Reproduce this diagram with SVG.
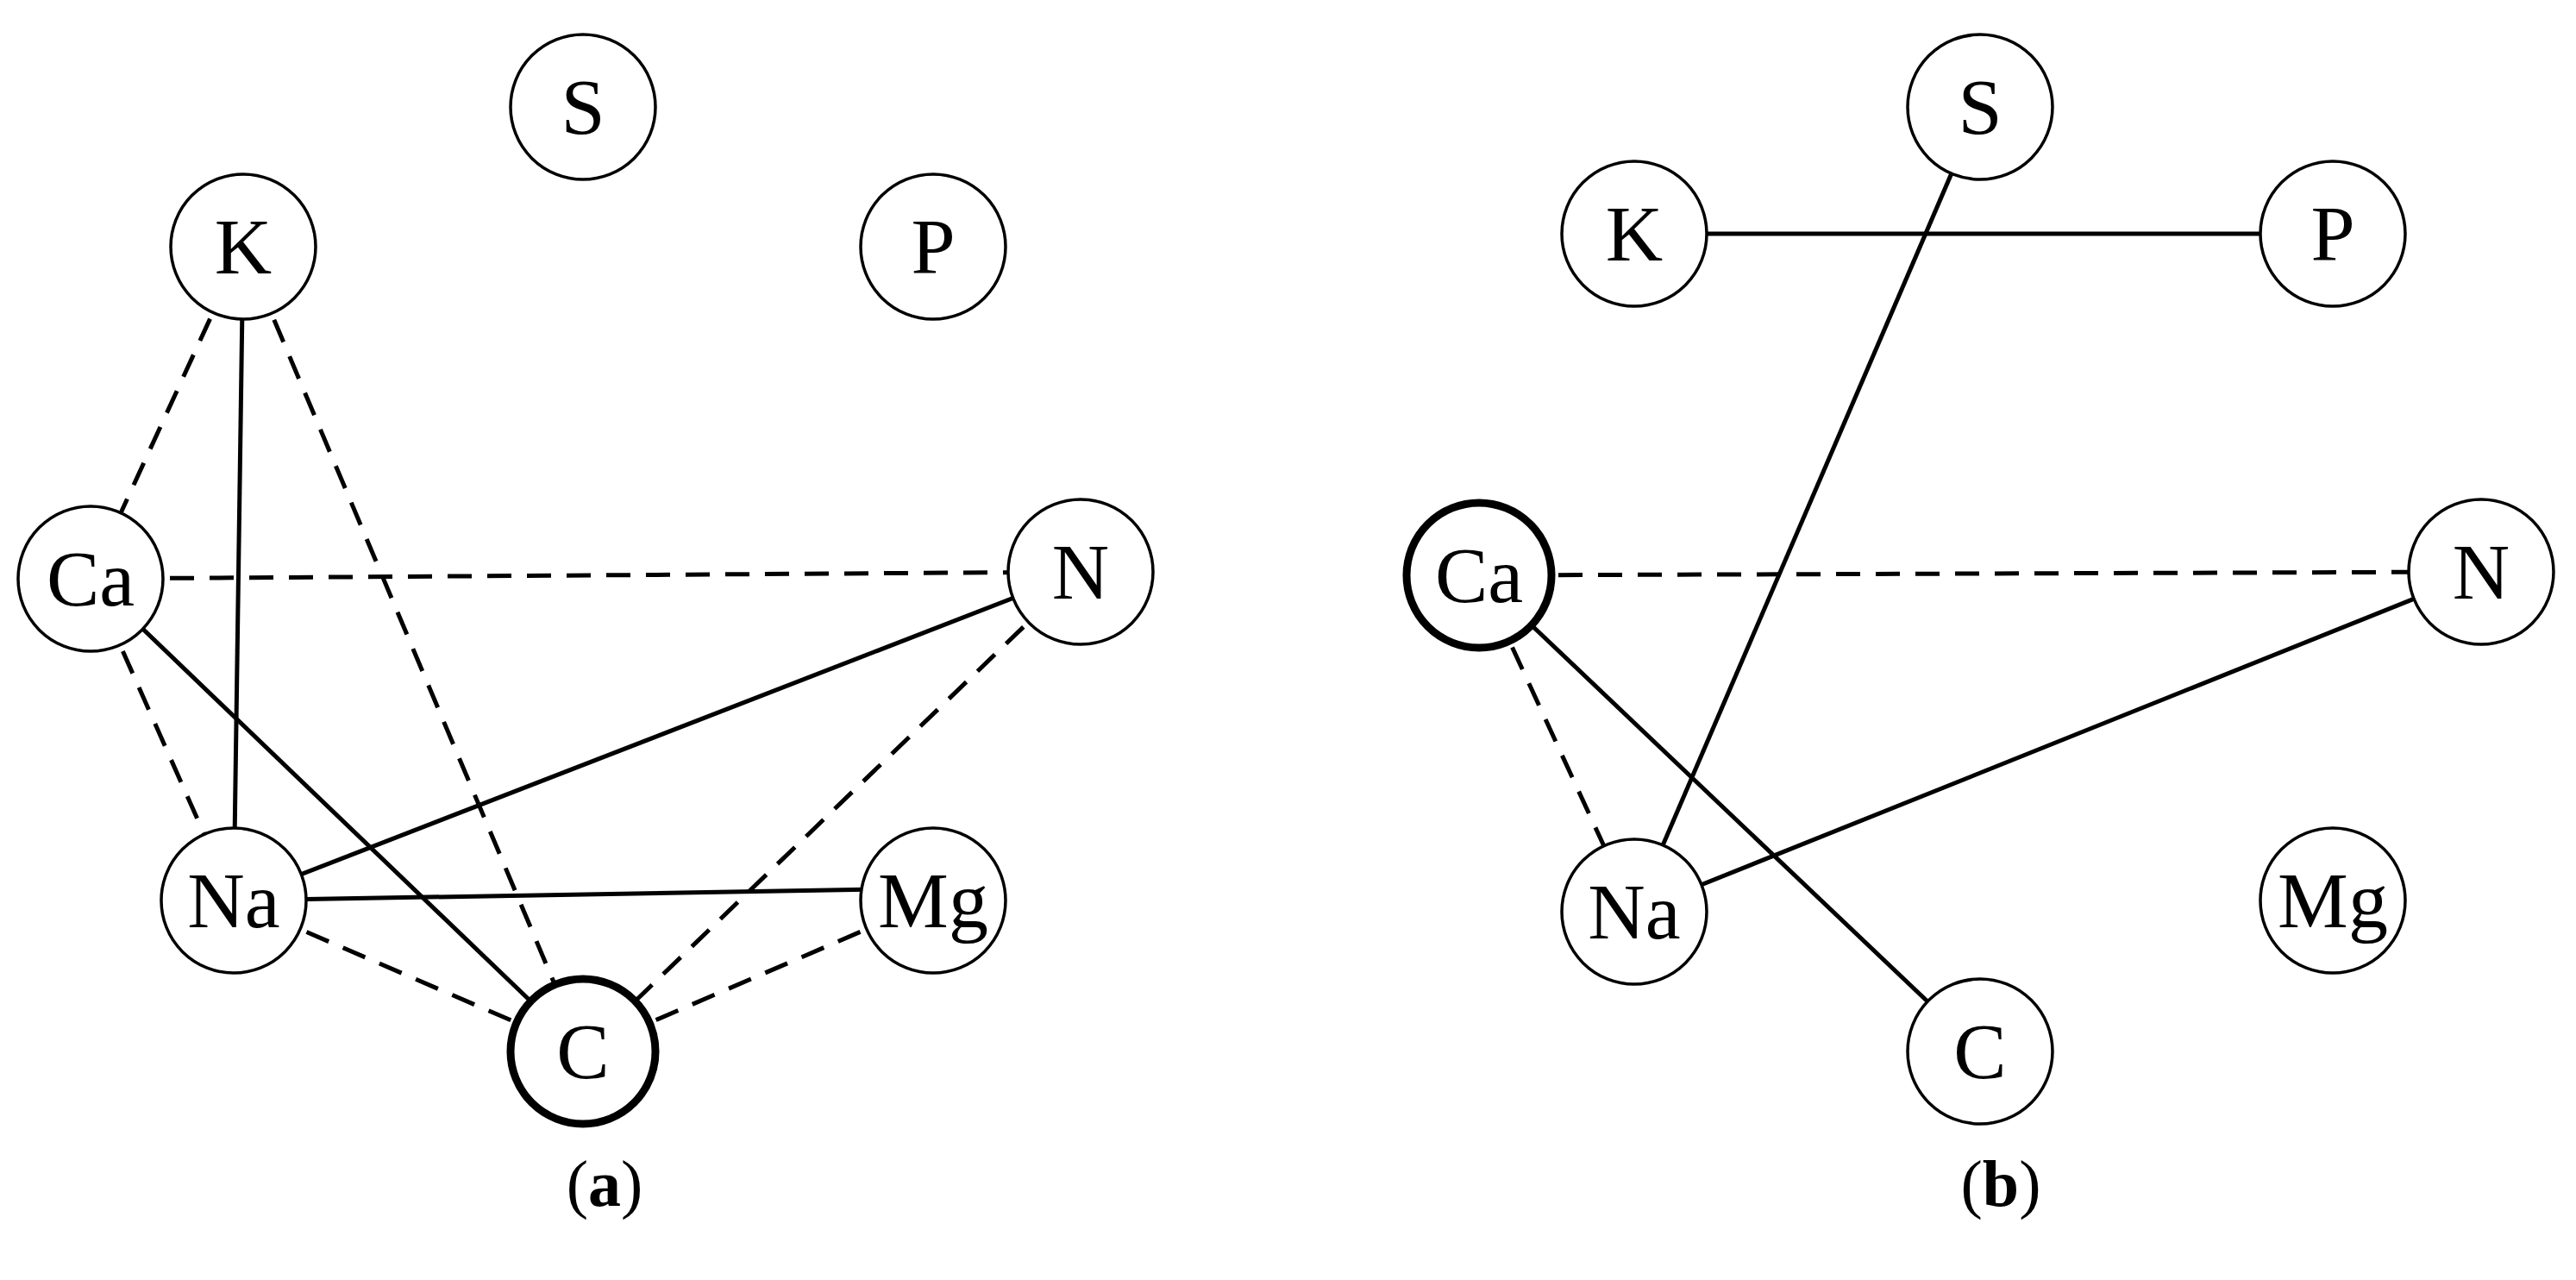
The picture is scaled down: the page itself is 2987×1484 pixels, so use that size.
<svg xmlns="http://www.w3.org/2000/svg" width="2987" height="1484" viewBox="0 0 2987 1484">
<style>
.n{fill:#fff;stroke:#000;stroke-width:3.5}
.b{stroke-width:9}
.t{font-family:"Liberation Serif",serif;font-size:92px;text-anchor:middle;dominant-baseline:central}
.s{stroke:#000;stroke-width:5;fill:none}
.d{stroke:#000;stroke-width:5;fill:none;stroke-dasharray:28 18}
.cap{font-family:"Liberation Serif",serif;font-size:76px;text-anchor:middle}
</style>
<rect width="2987" height="1484" fill="#fff"/>
<g id="connectors">
<line class="s" x1="282" y1="286" x2="271" y2="1044"/>
<line class="d" x1="282" y1="286" x2="105" y2="671"/>
<line class="d" x1="282" y1="286" x2="676" y2="1219"/>
<line class="d" x1="105" y1="671" x2="1253" y2="663"/>
<line class="d" x1="105" y1="671" x2="271" y2="1044"/>
<line class="s" x1="105" y1="671" x2="676" y2="1219"/>
<line class="s" x1="271" y1="1044" x2="1253" y2="663"/>
<line class="s" x1="271" y1="1044" x2="1082" y2="1030"/>
<line class="d" x1="1253" y1="663" x2="676" y2="1219"/>
<line class="d" x1="271" y1="1044" x2="676" y2="1219"/>
<line class="d" x1="1082" y1="1044" x2="676" y2="1219"/>
<line class="s" x1="1895" y1="271" x2="2705" y2="271"/>
<line class="s" x1="2296" y1="124" x2="1895" y2="1057"/>
<line class="d" x1="1715" y1="667" x2="2877" y2="663"/>
<line class="d" x1="1715" y1="667" x2="1895" y2="1057"/>
<line class="s" x1="1715" y1="667" x2="2296" y2="1219"/>
<line class="s" x1="1895" y1="1057" x2="2877" y2="663"/>
</g>
<g id="a-S"><circle class="n" cx="676" cy="124" r="84"/><text class="t" x="676" y="124">S</text></g>
<g id="a-K"><circle class="n" cx="282" cy="286" r="84"/><text class="t" x="282" y="286">K</text></g>
<g id="a-P"><circle class="n" cx="1082" cy="286" r="84"/><text class="t" x="1082" y="286">P</text></g>
<g id="a-Ca"><circle class="n" cx="105" cy="671" r="84"/><text class="t" x="105" y="671">Ca</text></g>
<g id="a-N"><circle class="n" cx="1253" cy="663" r="84"/><text class="t" x="1253" y="663">N</text></g>
<g id="a-Na"><circle class="n" cx="271" cy="1044" r="84"/><text class="t" x="271" y="1044">Na</text></g>
<g id="a-Mg"><circle class="n" cx="1082" cy="1044" r="84"/><text class="t" x="1082" y="1044">Mg</text></g>
<g id="a-C"><circle class="n b" cx="676" cy="1219" r="84"/><text class="t" x="676" y="1219">C</text></g>
<g id="b-S"><circle class="n" cx="2296" cy="124" r="84"/><text class="t" x="2296" y="124">S</text></g>
<g id="b-K"><circle class="n" cx="1895" cy="271" r="84"/><text class="t" x="1895" y="271">K</text></g>
<g id="b-P"><circle class="n" cx="2705" cy="271" r="84"/><text class="t" x="2705" y="271">P</text></g>
<g id="b-Ca"><circle class="n b" cx="1715" cy="667" r="84"/><text class="t" x="1715" y="667">Ca</text></g>
<g id="b-N"><circle class="n" cx="2877" cy="663" r="84"/><text class="t" x="2877" y="663">N</text></g>
<g id="b-Na"><circle class="n" cx="1895" cy="1057" r="84"/><text class="t" x="1895" y="1057">Na</text></g>
<g id="b-Mg"><circle class="n" cx="2705" cy="1044" r="84"/><text class="t" x="2705" y="1044">Mg</text></g>
<g id="b-C"><circle class="n" cx="2296" cy="1219" r="84"/><text class="t" x="2296" y="1219">C</text></g>
<text class="cap" x="701" y="1398">(<tspan font-weight="bold">a</tspan>)</text>
<text class="cap" x="2320" y="1398">(<tspan font-weight="bold">b</tspan>)</text>
</svg>
